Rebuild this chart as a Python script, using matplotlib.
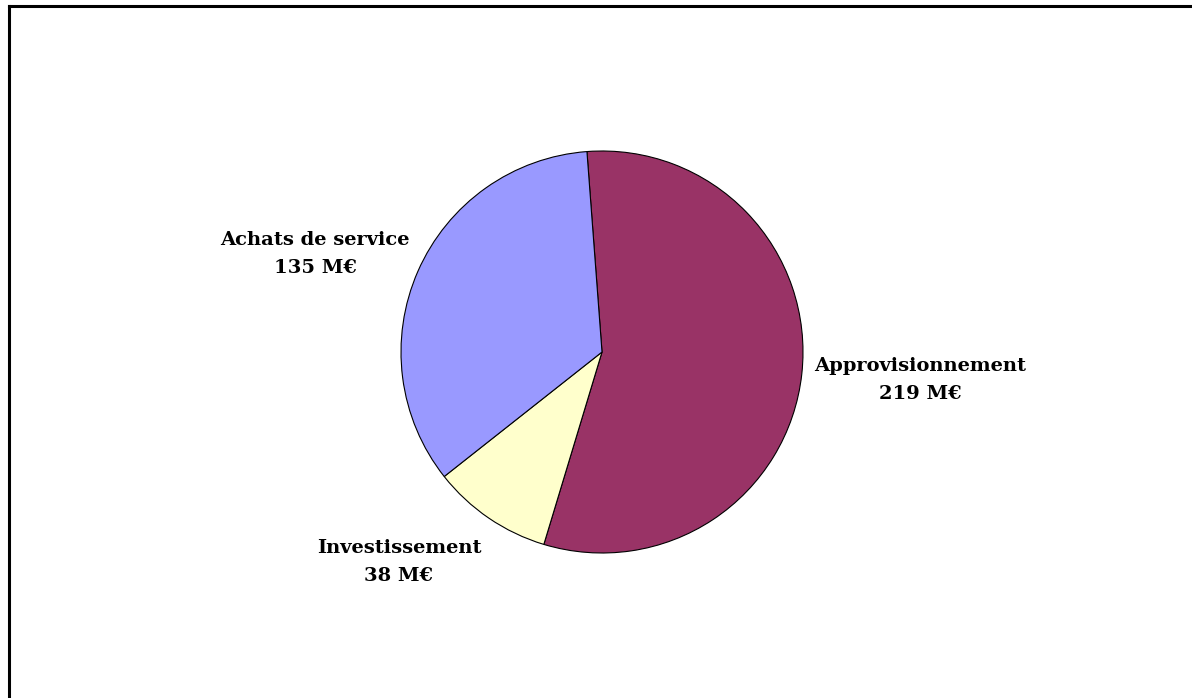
import matplotlib
matplotlib.use("Agg")
import matplotlib.pyplot as plt
from matplotlib.lines import Line2D

categories = ["Approvisionnement", "Investissement", "Achats de service"]
values = [219, 38, 135]
colors = ["#993366", "#FFFFCC", "#9999FF"]
unit = "M€"

W, H = 1192, 698
fig = plt.figure(figsize=(W / 100, H / 100), dpi=100)

# pie centre (602, 352) px, radius 201 px
cx, cy, r = 602, 352, 201
ax = fig.add_axes([(cx - r) / W, 1 - (cy + r) / H, 2 * r / W, 2 * r / H])
ax.pie(values, colors=colors, startangle=94.3, counterclock=False,
       wedgeprops=dict(edgecolor="black", linewidth=0.8), radius=1)
ax.set_xlim(-1, 1)
ax.set_ylim(-1, 1)
ax.set_aspect("equal")
ax.axis("off")

# label centres in pixels
label_px = [(920, 380), (399, 562), (315, 254)]
for name, val, (px, py) in zip(categories, values, label_px):
    ax.text((px - cx) / r, (cy - py) / r, f"{name}\n{val} {unit}",
            ha="center", va="center", fontsize=14, fontweight="bold",
            family="DejaVu Serif", linespacing=1.72)

# border (top and left visible)
fig.add_artist(Line2D([9 / W, 1], [1 - 6 / H, 1 - 6 / H], color="black", lw=2.2, transform=fig.transFigure))
fig.add_artist(Line2D([9 / W, 9 / W], [0, 1 - 6 / H], color="black", lw=2.2, transform=fig.transFigure))

fig.savefig("out.png", dpi=100)
